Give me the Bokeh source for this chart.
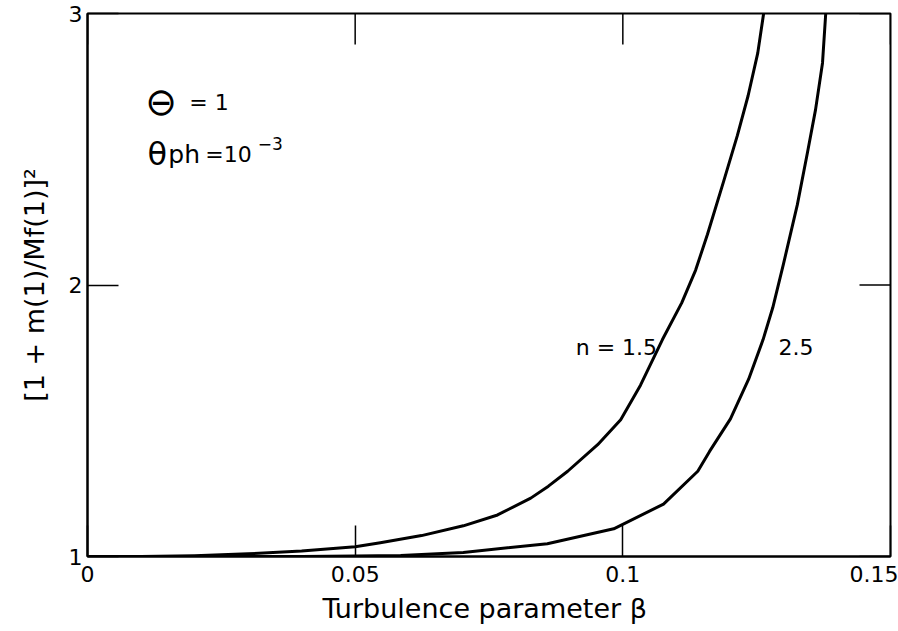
import math
from bokeh.plotting import figure
from bokeh.models import FixedTicker, Range1d
from bokeh.core.properties import value
from bokeh.embed import file_html
from bokeh.resources import INLINE

# --- data ---
beta_n15 = [0.0, 0.01, 0.02, 0.03, 0.04, 0.05, 0.0547, 0.0624, 0.0702, 0.0766, 0.0828,
            0.0861, 0.0897, 0.0953, 0.0996, 0.1033, 0.1074, 0.1110, 0.1136, 0.1158, 0.1188,
            0.1214, 0.1234, 0.1252, 0.1263]
val_n15 = [1.0, 1.0, 1.003, 1.01, 1.02, 1.036, 1.051, 1.077, 1.113, 1.153, 1.215,
           1.259, 1.314, 1.412, 1.504, 1.631, 1.799, 1.934, 2.055, 2.186, 2.380,
           2.551, 2.697, 2.854, 3.0]

beta_n25 = [0.0, 0.02, 0.04, 0.05, 0.0585, 0.0702, 0.0859, 0.0983, 0.1076, 0.1140,
            0.1162, 0.1201, 0.1235, 0.1262, 0.1280, 0.1300, 0.1326, 0.1345, 0.1360,
            0.1373, 0.1379]
val_n25 = [1.0, 1.0, 1.0, 1.002, 1.004, 1.015, 1.047, 1.102, 1.193, 1.314,
           1.387, 1.507, 1.653, 1.799, 1.916, 2.077, 2.296, 2.489, 2.646,
           2.818, 3.0]

x_ticks = [0, 0.05, 0.1, 0.15]
x_tick_labels = ["0", "0.05", "0.1", "0.15"]
y_ticks = [1, 2, 3]
y_tick_labels = ["1", "2", "3"]

FONT = "DejaVu Sans"

p = figure(width=898, height=631, output_backend="svg", toolbar_location=None,
           x_range=Range1d(0, 0.15), y_range=Range1d(1, 3),
           min_border_left=87, min_border_right=8, min_border_top=13, min_border_bottom=75)
p.background_fill_color = "white"
p.border_fill_color = "white"
p.outline_line_color = "black"
p.outline_line_width = 2
p.grid.visible = False

# bottom axis
xa = p.xaxis[0]
xa.ticker = FixedTicker(ticks=x_ticks)
xa.major_label_overrides = {t: l for t, l in zip(x_ticks, x_tick_labels)}
xa.axis_label = "Turbulence parameter  β"
# left axis
ya = p.yaxis[0]
ya.ticker = FixedTicker(ticks=y_ticks)
ya.major_label_overrides = {t: l for t, l in zip(y_ticks, y_tick_labels)}
ya.axis_label = "[1 + m(1)/Mf(1)]²"

for ax in (xa, ya):
    ax.axis_line_color = "black"
    ax.axis_line_width = 2
    ax.major_tick_in = 31
    ax.major_tick_out = 0
    ax.major_tick_line_width = 1.5
    ax.major_tick_line_color = "black"
    ax.minor_tick_line_color = None
    ax.major_label_text_font = FONT
    ax.major_label_text_font_size = "22px"
    ax.major_label_text_color = "black"
    ax.axis_label_text_font = FONT
    ax.axis_label_text_font_size = "27px"
    ax.axis_label_text_font_style = "normal"
    ax.axis_label_text_color = "black"
xa.major_label_standoff = 9
xa.axis_label_standoff = 8
ya.major_label_standoff = 5
ya.axis_label_standoff = 16

# inward ticks on top and right edges (half of each dash is clipped by the frame)
p.scatter(x=x_ticks, y=[y_ticks[-1]] * len(x_ticks), marker="dash", size=62,
          angle=math.pi / 2, line_color="black", line_width=1.5)
p.scatter(x=[x_ticks[-1]] * len(y_ticks), y=y_ticks, marker="dash", size=62,
          line_color="black", line_width=1.5)

# curves
p.line(beta_n15, val_n15, line_color="black", line_width=3, line_join="round")
p.line(beta_n25, val_n25, line_color="black", line_width=3, line_join="round")

def txt(x, y, s, size, baseline="alphabetic"):
    p.text(x=[x], y=[y], text=[s], text_font=value(FONT), text_font_size=size,
           text_baseline=baseline, text_align="left", text_color="black")

# curve labels
txt(0.0912, 1.77, "n = 1.5", "22px")
txt(0.1291, 1.77, "2.5", "22px")

# parameter annotations
txt(0.0108, 2.673, "⊖", "38px", "middle")
txt(0.0190, 2.673, "= 1", "22px", "middle")
txt(0.0112, 2.482, "θ", "32px")
txt(0.0151, 2.482, "ph", "25px")
txt(0.0220, 2.482, "=10", "22px")
txt(0.0318, 2.520, "−3", "17px")

open("out.html", "w").write(file_html(p, INLINE))
